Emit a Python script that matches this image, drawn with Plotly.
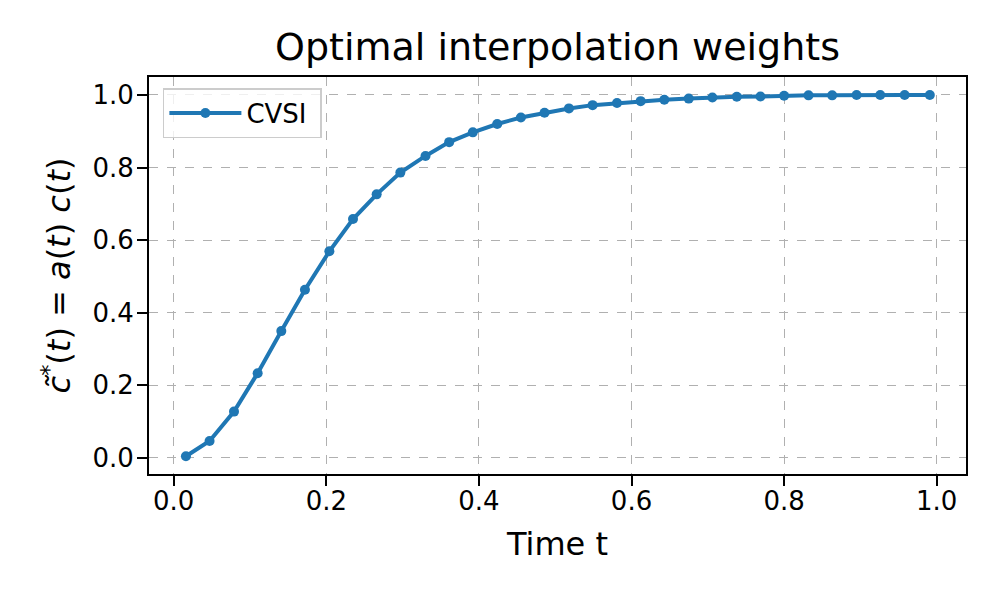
import plotly.graph_objects as go

t_values = [0.016, 0.047, 0.079, 0.110, 0.141, 0.172, 0.204, 0.235, 0.266, 0.297,
            0.330, 0.361, 0.392, 0.424, 0.455, 0.486, 0.518, 0.549, 0.581, 0.612,
            0.643, 0.675, 0.706, 0.738, 0.769, 0.800, 0.832, 0.863, 0.895, 0.926,
            0.958, 0.991]
cvsi_values = [0.004, 0.046, 0.127, 0.233, 0.349, 0.463, 0.569, 0.658, 0.726, 0.786,
               0.832, 0.870, 0.897, 0.920, 0.938, 0.951, 0.963, 0.972, 0.978, 0.983,
               0.987, 0.990, 0.993, 0.995, 0.996, 0.998, 0.999, 0.999, 1.000, 1.000,
               1.000, 1.000]
x_ticks = [0.0, 0.2, 0.4, 0.6, 0.8, 1.0]
y_ticks = [0.0, 0.2, 0.4, 0.6, 0.8, 1.0]

W, H = 996, 598
L, R, T, B = 141, 958, 69, 466

fig = go.Figure()
fig.add_trace(go.Scatter(
    x=t_values, y=cvsi_values, mode="lines+markers", name="CVSI\u00a0",
    line=dict(color="#1f77b4", width=4),
    marker=dict(color="#1f77b4", size=10),
))

font = "DejaVu Sans, Liberation Sans, sans-serif"
axis_common = dict(
    showline=True, linecolor="black", linewidth=2, mirror=True,
    ticks="outside", ticklen=10, tickwidth=2, tickcolor="black",
    showgrid=True, gridcolor="#b0b0b0", griddash="dash", gridwidth=1.2,
    zeroline=False, tickfont=dict(size=26, color="black", family=font),
)
fig.update_layout(
    width=W, height=H,
    margin=dict(l=L, r=W - R, t=T, b=H - B),
    paper_bgcolor="white", plot_bgcolor="white",
    font=dict(family=font, color="black"),
    title=dict(text="Optimal interpolation weights", x=0.5, xref="paper",
               xanchor="center", y=1 - 39 / H, yref="container", yanchor="middle",
               font=dict(size=38, color="black", family=font)),
    xaxis=dict(range=[-0.0324, 1.0384], tickvals=x_ticks,
               ticktext=[f"{v:.1f}" for v in x_ticks], ticklabelstandoff=-7,
               title=dict(text="Time t", font=dict(size=32, color="black"), standoff=17),
               **axis_common),
    yaxis=dict(range=[-0.045, 1.0496], tickvals=y_ticks,
               ticktext=[f"{v:.1f}" for v in y_ticks], ticklabelstandoff=-2,
               title=dict(text="<i>c\u0303</i><sup>*</sup>(<i>t</i>) = <i>a</i>(<i>t</i>) <i>c</i>(<i>t</i>)",
                          font=dict(size=32, color="black"), standoff=12),
               **axis_common),
    legend=dict(x=0.017, y=0.972, xanchor="left", yanchor="top",
                bgcolor="rgba(255,255,255,0.8)", bordercolor="#cccccc", borderwidth=1.5,
                itemwidth=72,
                font=dict(size=26, color="black")),
    showlegend=True,
)
fig.write_html("out.html")
